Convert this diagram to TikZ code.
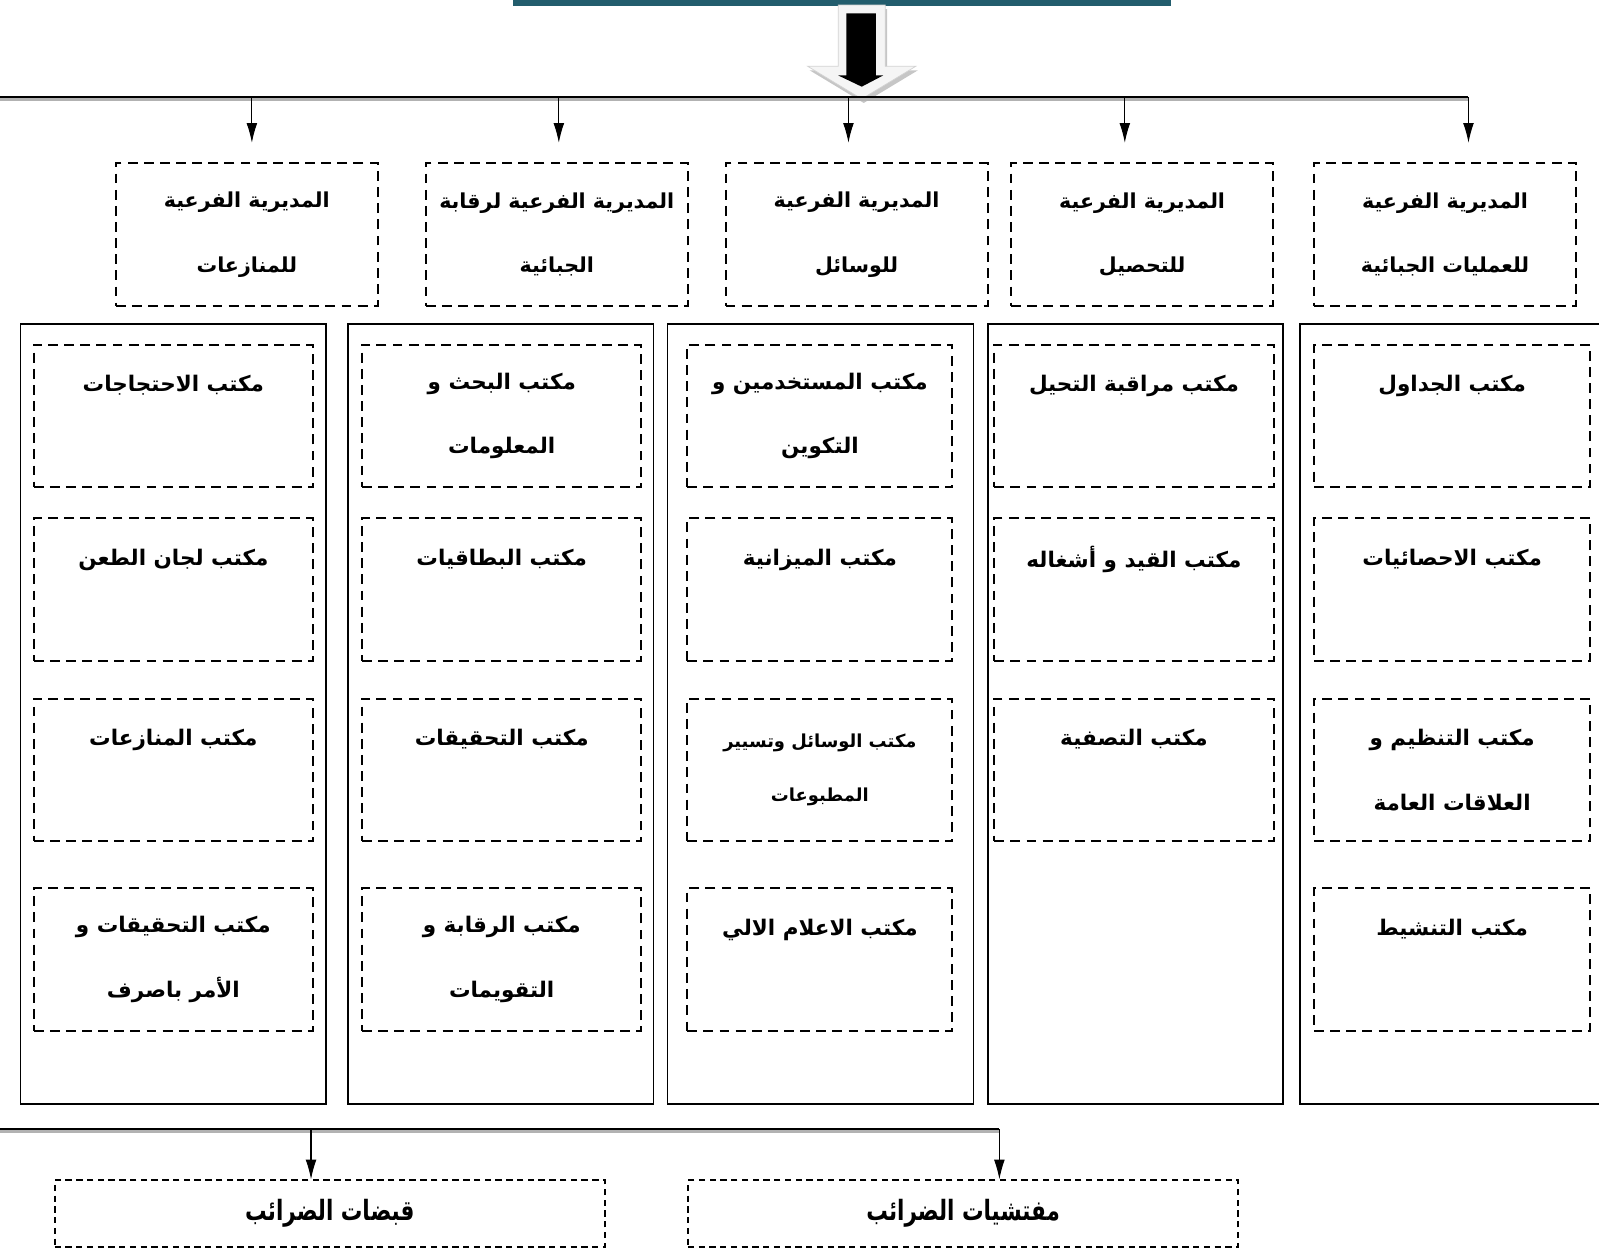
\documentclass[tikz,border=0pt]{standalone}
\usepackage{fontspec}
\usepackage{xcolor}
\usepackage{graphicx}
\usepackage{tikz}
\usetikzlibrary{arrows.meta,positioning}
\TeXXeTstate=1
\newfontfamily\arabicfont[Script=Arabic]{DejaVu Sans}
\newcommand{\ar}[1]{\beginR #1\endR}
\definecolor{barteal}{RGB}{34,93,109}

\begin{document}
\begin{tikzpicture}[
    x=0.02cm, y=-0.02cm,
    subdir/.style={rectangle, draw, dash pattern=on 5.5pt off 3.5pt, line width=1.1pt, minimum width=5.14cm, minimum height=2.8cm, align=center, inner sep=0pt, font=\arabicfont\bfseries\fontsize{11.5}{36}\selectfont},
    office/.style={subdir, minimum width=5.48cm, font=\arabicfont\bfseries\fontsize{12}{36}\selectfont},
    column/.style={rectangle, draw, line width=0.9pt, minimum width=6cm, minimum height=15.3cm},
    taxbox/.style={subdir, dash pattern=on 3.5pt off 2.5pt, minimum width=10.8cm, minimum height=1.3cm, font=\arabicfont\bfseries\fontsize{12}{20}\selectfont},
    branch/.style={-{Latex[length=11pt,width=6pt]}, line width=0.6pt},
    bus/.style={line width=1.2pt}
]
\useasboundingbox (0,0) rectangle (1568,1223);

% top bar and block arrow
\fill[barteal] (503,-10) rectangle (1148,6);
\fill[gray!45] (824,9) -- (870,9) -- (870,69) -- (900,69) -- (847,101) -- (794,69) -- (824,69) -- cycle;
\filldraw[fill=gray!8, draw=gray!35] (822,5) -- (868,5) -- (868,65) -- (898,65) -- (845,97) -- (792,65) -- (822,65) -- cycle;
\fill[black] (830,13) -- (859,13) -- (859,74) -- (866,74) -- (845,85) -- (822,74) -- (830,74) -- cycle;

% sub-directorates
\node[subdir] (disputes) at (242,230) {\ar{المديرية الفرعية}\\\ar{للمنازعات}};
\node[subdir] (taxaudit) at (546,230) {\ar{المديرية الفرعية لرقابة}\\\ar{الجبائية}};
\node[subdir] (means) at (840,230) {\ar{المديرية الفرعية}\\\ar{للوسائل}};
\node[subdir] (collection) at (1120,230) {\ar{المديرية الفرعية}\\\ar{للتحصيل}};
\node[subdir] (taxops) at (1417,230) {\ar{المديرية الفرعية}\\\ar{للعمليات الجبائية}};

\coordinate (busL) at (0,95);
\coordinate (busR) at (1440,95);
\coordinate (tip1) at (247,95);
\coordinate (tip2) at (548,95);
\coordinate (tip3) at (832,95);
\coordinate (tip4) at (1103,95);
\draw[bus, gray!60] ([yshift=-0.05cm]busL) -- ([yshift=-0.05cm]busR);
\draw[bus] (busL) -- (busR);
\draw[branch, shorten >=0.38cm] (tip1) -- (tip1 |- disputes.north);
\draw[branch, shorten >=0.38cm] (tip2) -- (tip2 |- taxaudit.north);
\draw[branch, shorten >=0.38cm] (tip3) -- (tip3 |- means.north);
\draw[branch, shorten >=0.38cm] (tip4) -- (tip4 |- collection.north);
\draw[branch, shorten >=0.38cm] (busR) -- (busR |- taxops.north);

% columns
\node[column] (disputesCol) at (170,700) {};
\node[column] (taxauditCol) at (491,700) {};
\node[column] (meansCol) at (804.5,700) {};
\node[column, minimum width=5.78cm] (collectionCol) at (1113.5,700) {};
\node[column] (taxopsCol) at (1425,700) {};

% offices
\node[office] (protests) at (170,408) {\ar{مكتب الاحتجاجات}\\\mbox{}};
\node[office] (appeals) at (170,578) {\ar{مكتب لجان الطعن}\\\mbox{}};
\node[office] (litigation) at (170,755) {\ar{مكتب المنازعات}\\\mbox{}};
\node[office] (probes) at (170,941) {\ar{مكتب التحقيقات و}\\\ar{الأمر باصرف}};

\node[office] (research) at (492,408) {\ar{مكتب البحث و}\\\ar{المعلومات}};
\node[office] (files) at (492,578) {\ar{مكتب البطاقيات}\\\mbox{}};
\node[office] (audits) at (492,755) {\ar{مكتب التحقيقات}\\\mbox{}};
\node[office] (reviews) at (492,941) {\ar{مكتب الرقابة و}\\\ar{التقويمات}};

\node[office, minimum width=5.2cm] (staff) at (804,408) {\ar{مكتب المستخدمين و}\\\ar{التكوين}};
\node[office, minimum width=5.2cm] (budget) at (804,578) {\ar{مكتب الميزانية}\\\mbox{}};
\node[office, minimum width=5.2cm, font=\arabicfont\bfseries\fontsize{10}{30}\selectfont] (supplies) at (804,755) {\ar{مكتب الوسائل وتسيير}\\\ar{المطبوعات}};
\node[office, minimum width=5.2cm] (computing) at (804,941) {\ar{مكتب الاعلام الالي}\\\mbox{}};

\node[office] (tracking) at (1112,408) {\ar{مكتب مراقبة التحيل}\\\mbox{}};
\node[office] (records) at (1112,578) {\ar{مكتب القيد و أشغاله}\\\mbox{}};
\node[office] (settlement) at (1112,755) {\ar{مكتب التصفية}\\\mbox{}};

\node[office, minimum width=5.42cm] (rolls) at (1424,408) {\ar{مكتب الجداول}\\\mbox{}};
\node[office, minimum width=5.42cm] (stats) at (1424,578) {\ar{مكتب الاحصائيات}\\\mbox{}};
\node[office, minimum width=5.42cm] (relations) at (1424,755) {\ar{مكتب التنظيم و}\\\ar{العلاقات العامة}};
\node[office, minimum width=5.42cm] (outreach) at (1424,941) {\ar{مكتب التنشيط}\\\mbox{}};

% lower branch
\node[taxbox] (receipts) at (323.5,1190) {\scalebox{1}[1.3]{\ar{قبضات الضرائب}}};
\node[taxbox] (inspections) at (944.5,1190) {\scalebox{1}[1.3]{\ar{مفتشيات الضرائب}}};

\coordinate (lowL) at (0,1107);
\coordinate (lowM) at (305,1107);
\coordinate (lowR) at (980,1107);
\draw[bus, gray!60] ([yshift=-0.05cm]lowL) -- ([yshift=-0.05cm]lowR);
\draw[bus] (lowL) -- (lowR);
\draw[branch] (lowM) -- (lowM |- receipts.north);
\draw[branch] (lowR) -- (lowR |- inspections.north);

\end{tikzpicture}
\end{document}
